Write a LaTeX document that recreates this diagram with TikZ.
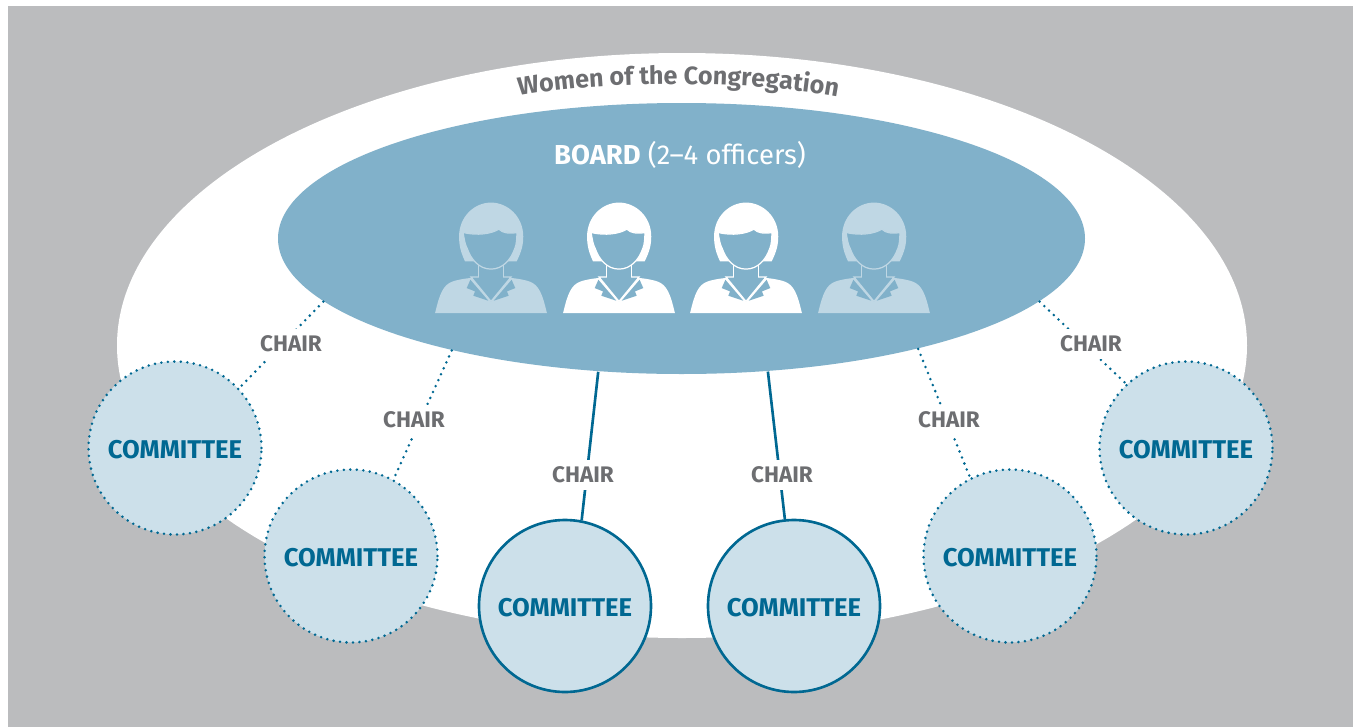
\documentclass[tikz,border=0pt]{standalone}
\usepackage{fontspec}
\setmainfont{Fira Sans}
\usetikzlibrary{shapes.geometric}
\usetikzlibrary{decorations.text}

\definecolor{bggray}{HTML}{BBBCBE}
\definecolor{boardblue}{HTML}{81B1CA}
\definecolor{palelight}{HTML}{BFD7E4}
\definecolor{compale}{HTML}{CCE0EA}
\definecolor{comblue}{HTML}{006892}
\definecolor{textgray}{HTML}{6D6E71}

\tikzset{
  comsolid/.style={circle, minimum size=1.72cm, inner sep=0, fill=compale, draw=comblue, line width=0.75pt, text=comblue, text height=6.1pt, font=\fontsize{7.3}{8}\selectfont\bfseries},
  comdot/.style={comsolid, minimum size=1.73cm, line width=0.8pt, line cap=round, dash pattern=on 0pt off 1.85pt},
  linksolid/.style={draw=comblue, line width=0.75pt},
  linkdot/.style={draw=comblue, line width=0.8pt, line cap=round, dash pattern=on 0pt off 1.85pt},
  chair/.style={fill=white, inner sep=0, minimum width=0.68cm, minimum height=0.3cm, text=textgray, font=\fontsize{6.4}{7}\selectfont\bfseries},
  pics/person/.style={code={
    \begin{scope}[x=0.00333cm, y=0.00333cm]
      \fill[#1] (-78,155) .. controls (-92,185) and (-96,205) .. (-96,230) .. controls (-96,290) and (-50,332) .. (0,332) .. controls (50,332) and (97,290) .. (97,230) .. controls (97,205) and (92,185) .. (77,155) -- cycle;
      \draw[#1, fill=boardblue, line width=0.35pt] (-38,100) rectangle (38,150);
      \fill[#1] (-168,0) .. controls (-155,55) and (-145,85) .. (-115,95) .. controls (-95,102) and (-65,105) .. (-38,108) -- (38,108) .. controls (65,105) and (95,102) .. (115,95) .. controls (145,85) and (155,55) .. (168,0) -- cycle;
      \fill[boardblue] (-62,100) -- (-73,75) -- (-48,65) -- (-53,52) -- (-8,37) -- cycle;
      \fill[boardblue] (62,100) -- (73,75) -- (48,65) -- (53,52) -- (8,37) -- cycle;
      \draw[#1, fill=boardblue, line width=0.35pt] (-60,108) -- (0,35) -- (60,108) -- cycle;
      \fill[boardblue] (-36,100) rectangle (36,112);
      \draw[#1, fill=boardblue, line width=0.35pt] (-84,242) .. controls (-40,232) and (0,238) .. (24,252) .. controls (35,240) and (55,238) .. (78,242) .. controls (78,220) and (76,205) .. (72,195) .. controls (60,160) and (35,132) .. (0,132) .. controls (-35,132) and (-60,160) .. (-72,195) .. controls (-78,205) and (-80,220) .. (-84,242) -- cycle;
    \end{scope}
  }}
}

\begin{document}
\begin{tikzpicture}[y=-1cm]
  \useasboundingbox (0,0) rectangle (13.53,7.27);
  \fill[bggray] (0.08,0.06) rectangle (13.53,7.27);

  \draw (6.82,3.455) node[ellipse, fill=white, minimum width=11.3cm, minimum height=5.85cm, inner sep=0] (women) {};
  \draw (6.815,2.385) node[ellipse, fill=boardblue, minimum width=8.07cm, minimum height=2.71cm, inner sep=0] (board) {};
  \path[decorate, decoration={text along path, text align=center, text={|\fontsize{7.15}{10}\selectfont\bfseries\color{textgray}|Women of the Congregation}}]
    (5.17,0.96) .. controls (6.0,0.80) and (7.5,0.80) .. (8.40,0.97);
  \draw (6.8,1.55) node[text=white, font=\fontsize{7.8}{9}\selectfont] (boardtext) {\textbf{BOARD} (2--4 officers)};

  \draw (4.91,3.13) pic {person=palelight};
  \draw (6.19,3.13) pic {person=white};
  \draw (7.46,3.13) pic {person=white};
  \draw (8.74,3.13) pic {person=palelight};

  \draw (1.75,4.48) node[comdot] (com1) {COMMITTEE};
  \draw (3.51,5.56) node[comdot] (com2) {COMMITTEE};
  \draw (5.65,6.06) node[comsolid] (com3) {COMMITTEE};
  \draw (7.94,6.06) node[comsolid] (com4) {COMMITTEE};
  \draw (10.10,5.56) node[comdot] (com5) {COMMITTEE};
  \draw (11.86,4.48) node[comdot] (com6) {COMMITTEE};

  \path (board.190.5) edge[linkdot] (com1.43.6)
        (board.206.2) edge[linkdot] (com2.61)
        (board.238) edge[linksolid] (com3.79)
        (board.303.5) edge[linksolid] (com4.96)
        (board.335.2) edge[linkdot] (com5.117)
        (board.350.8) edge[linkdot] (com6.133);

  \draw (2.91,3.44) node[chair] (chair1) {CHAIR};
  \draw (4.14,4.20) node[chair] (chair2) {CHAIR};
  \draw (5.83,4.75) node[chair] (chair3) {CHAIR};
  \draw (7.82,4.75) node[chair] (chair4) {CHAIR};
  \draw (9.49,4.20) node[chair] (chair5) {CHAIR};
  \draw (10.91,3.44) node[chair] (chair6) {CHAIR};
\end{tikzpicture}
\end{document}
